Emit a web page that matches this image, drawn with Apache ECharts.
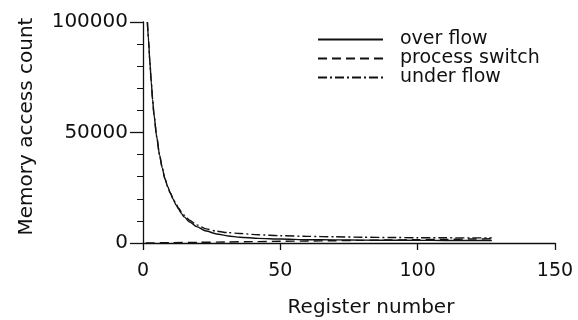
<!DOCTYPE html>
<html>
<head>
<meta charset="utf-8">
<script src="https://cdn.jsdelivr.net/npm/echarts@6/dist/echarts.min.js"></script>
<style>
  html, body { margin: 0; padding: 0; background: #fff; }
  #chart { width: 578px; height: 320px; }
</style>
</head>
<body>
<div id="chart"></div>
<script>
// register number / memory access count
const overFlow = [
  [1.6, 100000], [2, 92000], [2.5, 82000], [3, 73000], [3.5, 65000],
  [4, 58000], [5, 48000], [6, 40000], [7, 34000], [8, 29000],
  [9, 25500], [10, 22500], [11, 19800], [12, 17300], [13, 15200],
  [14, 13300], [15, 11800], [17, 9500], [19.5, 7400], [23, 5400],
  [26.8, 4100], [31, 3200], [35.3, 2600], [42, 2100], [50, 1800],
  [60, 1500], [70, 1400], [80, 1300], [90, 1250], [100, 1200],
  [110, 1150], [120, 1100], [127, 1100]
];
const processSwitch = [
  [1, 20], [10, 150], [20, 300], [30, 460], [40, 620], [50, 760],
  [60, 900], [70, 1050], [80, 1200], [90, 1350], [100, 1500],
  [110, 1650], [120, 1800], [127, 1900]
];
const underFlow = [
  [1.6, 100000], [2, 92000], [2.5, 82000], [3, 73000], [3.5, 65000],
  [4, 58000], [5, 48000], [6, 40000], [7, 34000], [8, 29000],
  [9, 25500], [10, 22500], [11, 19900], [12, 17600], [13, 15700],
  [14, 14000], [15, 12600], [17, 10300], [19.5, 8200], [23, 6400],
  [26.8, 5300], [31, 4700], [35.3, 4300], [42, 3700], [50, 3300],
  [60, 3000], [70, 2800], [80, 2600], [90, 2500], [100, 2400],
  [110, 2350], [120, 2300], [127, 2300]
];
const seriesNames = ['over flow', 'process switch', 'under flow'];
const xTicks = [0, 50, 100, 150];
const yTicks = [0, 50000, 100000];

const font = 'DejaVu Sans';
const ink = '#111';

const chart = echarts.init(document.getElementById('chart'));

const lineSeries = (name, data, type) => ({
  name: name,
  type: 'line',
  data: data,
  symbol: 'none',
  smooth: 0.25,
  smoothMonotone: 'x',
  animation: false,
  lineStyle: { color: ink, width: 1.4, type: type },
  itemStyle: { color: ink }
});

chart.setOption({
  animation: false,
  grid: { left: 143, right: 23, top: 22, bottom: 77, outerBoundsMode: 'none' },
  legend: {
    orient: 'vertical',
    left: 312,
    top: 25,
    itemWidth: 65,
    itemHeight: 14,
    itemGap: 0,
    data: seriesNames,
    itemStyle: { opacity: 0 },
    textStyle: {
      fontFamily: font, fontSize: 19, color: ink,
      lineHeight: 19, padding: [0, 0, 0, 12]
    }
  },
  xAxis: {
    type: 'value',
    min: xTicks[0],
    max: xTicks[xTicks.length - 1],
    interval: 50,
    name: 'Register number',
    nameLocation: 'middle',
    nameGap: 55,
    nameTextStyle: { fontFamily: font, fontSize: 20, color: ink, padding: [0, 0, 0, 44] },
    axisLine: { onZero: false, lineStyle: { color: ink, width: 1.3 } },
    axisTick: { show: true, length: 7, lineStyle: { color: ink, width: 1.3 } },
    axisLabel: { margin: 19, fontFamily: font, fontSize: 19, color: ink, formatter: v => String(v) },
    splitLine: { show: false }
  },
  yAxis: {
    type: 'value',
    min: yTicks[0],
    max: yTicks[yTicks.length - 1],
    interval: 50000,
    name: 'Memory access count',
    nameLocation: 'middle',
    nameGap: 106,
    nameTextStyle: { fontFamily: font, fontSize: 20, color: ink, padding: [0, 0, 0, 12] },
    axisLine: { show: true, lineStyle: { color: ink, width: 1.3 } },
    axisTick: { show: true, length: 13, lineStyle: { color: ink, width: 1.3 } },
    minorTick: { show: true, splitNumber: 5, length: 6, lineStyle: { color: ink, width: 1 } },
    axisLabel: { margin: 15, fontFamily: font, fontSize: 20, color: ink, formatter: v => String(v) },
    splitLine: { show: false }
  },
  series: [
    lineSeries(seriesNames[1], processSwitch, [9, 5]),
    lineSeries(seriesNames[2], underFlow, [9, 3, 2, 3]),
    lineSeries(seriesNames[0], overFlow, 'solid')
  ]
});
</script>
</body>
</html>
